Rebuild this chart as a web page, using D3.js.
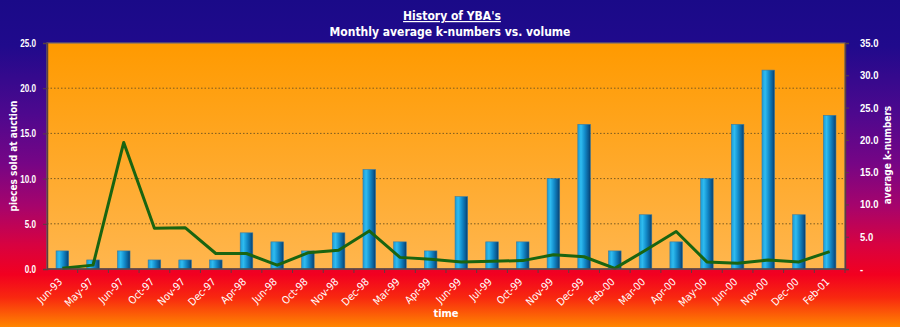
<!DOCTYPE html>
<html>
<head>
<meta charset="utf-8">
<script src="https://cdn.jsdelivr.net/npm/d3@7/dist/d3.min.js"></script>
<style>
  html, body { margin: 0; padding: 0; background: #1c0a8c; }
  svg { display: block; font-family: "DejaVu Sans", Verdana, sans-serif; }
</style>
</head>
<body>
<svg id="chart" width="900" height="327"></svg>
<script>
// Auction months
const months = ["Jun-93","May-97","Jun-97","Oct-97","Nov-97","Dec-97","Apr-98","Jun-98",
  "Oct-98","Nov-98","Dec-98","Mar-99","Apr-99","Jun-99","Jul-99","Oct-99","Nov-99",
  "Dec-99","Feb-00","Mar-00","Apr-00","May-00","Jun-00","Nov-00","Dec-00","Feb-01"];
// Pieces sold at auction per month (left axis)
const piecesSold = [2,1,2,1,1,1,4,3,2,4,11,3,2,8,3,3,10,16,2,6,3,10,16,22,6,17];
// Monthly average k-number (right axis)
const avgKNumber = [0.1,0.6,19.6,6.3,6.4,2.4,2.4,0.6,2.5,2.9,5.9,1.8,1.5,1.1,1.2,1.3,2.2,
  1.9,0.1,2.9,5.8,1.1,0.9,1.4,1.1,2.7];
const leftTicks = [0,5,10,15,20,25];
const rightTicks = [0,5,10,15,20,25,30,35];

const W = 900, H = 327;
const plot = { left: 47, right: 845, top: 43, bottom: 269 };

const sans = "'Liberation Sans', Arial, sans-serif";
const cond = "'DejaVu Sans Condensed', 'DejaVu Sans', sans-serif";

const svg = d3.select("#chart");
const defs = svg.append("defs");

// page background: deep blue at the top fading through purple to red, then orange
const bg = defs.append("linearGradient").attr("id","bg").attr("x1",0).attr("y1",0).attr("x2",0).attr("y2",1);
[[0,"#1a0a88"],[0.14,"#200a8c"],[0.35,"#4e088e"],[0.5,"#760585"],[0.63,"#a6046c"],
 [0.75,"#d80240"],[0.84,"#f20020"],[0.91,"#f8280f"],[1,"#ff8600"]]
  .forEach(([o,c]) => bg.append("stop").attr("offset",o).attr("stop-color",c));

// plot area fill: orange, lighter toward the bottom
const pg = defs.append("linearGradient").attr("id","pg").attr("x1",0).attr("y1",0).attr("x2",0).attr("y2",1);
[[0,"#ff9a00"],[1,"#ffb64e"]].forEach(([o,c]) => pg.append("stop").attr("offset",o).attr("stop-color",c));

// cylinder shading for bars
const bgBar = defs.append("linearGradient").attr("id","bar").attr("x1",0).attr("y1",0).attr("x2",1).attr("y2",0);
[[0,"#1a9ad4"],[0.25,"#2fbcf0"],[0.55,"#138ccb"],[0.85,"#0a5a92"],[1,"#083c6a"]]
  .forEach(([o,c]) => bgBar.append("stop").attr("offset",o).attr("stop-color",c));

svg.append("rect").attr("width",W).attr("height",H).attr("fill","url(#bg)");

const x = d3.scaleBand().domain(months).range([plot.left, plot.right]).paddingInner(0).paddingOuter(0);
const yL = d3.scaleLinear().domain([0,25]).range([plot.bottom, plot.top]);
const yR = d3.scaleLinear().domain([0,35]).range([plot.bottom, plot.top]);

svg.append("rect")
  .attr("x",plot.left).attr("y",plot.top)
  .attr("width",plot.right-plot.left).attr("height",plot.bottom-plot.top)
  .attr("fill","url(#pg)").attr("stroke","#7a6a6a").attr("stroke-width",1.2);

// dotted gridlines
svg.append("g").selectAll("line").data(leftTicks.filter(t => t > 0 && t < 25)).join("line")
  .attr("x1",plot.left).attr("x2",plot.right)
  .attr("y1",d => yL(d)).attr("y2",d => yL(d))
  .attr("stroke","#7a5a20").attr("stroke-width",1).attr("stroke-dasharray","1.5,2");

// bars
const bw = x.bandwidth() * 0.41;
svg.append("g").selectAll("rect").data(months).join("rect")
  .attr("x",(d,i) => x(d) + (x.bandwidth()-bw)/2)
  .attr("y",(d,i) => yL(piecesSold[i]))
  .attr("width",bw)
  .attr("height",(d,i) => yL(0) - yL(piecesSold[i]))
  .attr("fill","url(#bar)")
  .attr("stroke","#3a7aa0").attr("stroke-width",0.6);

// k-number line
const line = d3.line()
  .x((d,i) => x(months[i]) + x.bandwidth()/2)
  .y(d => yR(d));
svg.append("path").datum(avgKNumber)
  .attr("d",line).attr("fill","none")
  .attr("stroke","#1a6410").attr("stroke-width",3).attr("stroke-linejoin","round");

const axisColor = "#5a4040";
const tickFont = `bold 11px ${sans}`;

// squeeze tick labels horizontally to a condensed look
function condense(sel, k) {
  sel.each(function() {
    const w = this.getComputedTextLength();
    d3.select(this).attr("textLength", w * k).attr("lengthAdjust", "spacingAndGlyphs");
  });
}

// left axis
const gL = svg.append("g").attr("transform",`translate(${plot.left},0)`)
  .call(d3.axisLeft(yL).tickValues(leftTicks).tickFormat(d3.format(".1f")).tickSize(4).tickPadding(7));
gL.select(".domain").attr("stroke",axisColor).attr("stroke-width",1.5);
gL.selectAll(".tick line").attr("stroke",axisColor);
gL.selectAll(".tick text").attr("fill","#ffffff").style("font",tickFont).call(condense, 0.74);

// right axis
const gR = svg.append("g").attr("transform",`translate(${plot.right},0)`)
  .call(d3.axisRight(yR).tickValues(rightTicks)
    .tickFormat(d => d === 0 ? "-" : d3.format(".1f")(d)).tickSize(4).tickPadding(11));
gR.select(".domain").attr("stroke",axisColor).attr("stroke-width",1.5);
gR.selectAll(".tick line").attr("stroke",axisColor);
gR.selectAll(".tick text").attr("fill","#ffffff").style("font",tickFont).call(condense, 0.86);

// bottom axis: ticks on the category boundaries
const gB = svg.append("g").attr("transform",`translate(0,${plot.bottom})`);
gB.append("line").attr("x1",plot.left).attr("x2",plot.right).attr("y1",0).attr("y2",0)
  .attr("stroke",axisColor).attr("stroke-width",1.5);
gB.selectAll("line.tk").data(months).join("line").attr("class","tk")
  .attr("x1",d => x(d) + x.bandwidth())
  .attr("x2",d => x(d) + x.bandwidth())
  .attr("y1",0).attr("y2",4).attr("stroke",axisColor);
gB.selectAll("text").data(months).join("text")
  .attr("transform",d => `translate(${x(d) + x.bandwidth()/2 - 2},${11}) rotate(-45)`)
  .attr("text-anchor","end").attr("dy","0.35em")
  .attr("fill","#ffffff").style("font",`10.5px ${cond}`)
  .text(d => d);

// titles
svg.append("text").attr("x",452).attr("y",20).attr("text-anchor","middle")
  .attr("fill","#ffffff").attr("text-decoration","underline")
  .style("font",`bold 12px ${cond}`)
  .text("History of YBA's");
svg.append("text").attr("x",450).attr("y",36).attr("text-anchor","middle")
  .attr("fill","#ffffff")
  .style("font",`bold 12px ${cond}`)
  .text("Monthly average k-numbers vs. volume");

svg.append("text").attr("transform",`translate(13,156) rotate(-90)`)
  .attr("text-anchor","middle").attr("dy","0.35em").attr("fill","#ffffff")
  .style("font",`bold 10px ${cond}`)
  .text("pieces sold at auction");
svg.append("text").attr("transform",`translate(887,155) rotate(-90)`)
  .attr("text-anchor","middle").attr("dy","0.35em").attr("fill","#ffffff")
  .style("font",`bold 10px ${cond}`)
  .text("average k-numbers");
svg.append("text").attr("x",446).attr("y",317).attr("text-anchor","middle").attr("fill","#ffffff")
  .style("font",`bold 11px ${cond}`)
  .text("time");
</script>
</body>
</html>
